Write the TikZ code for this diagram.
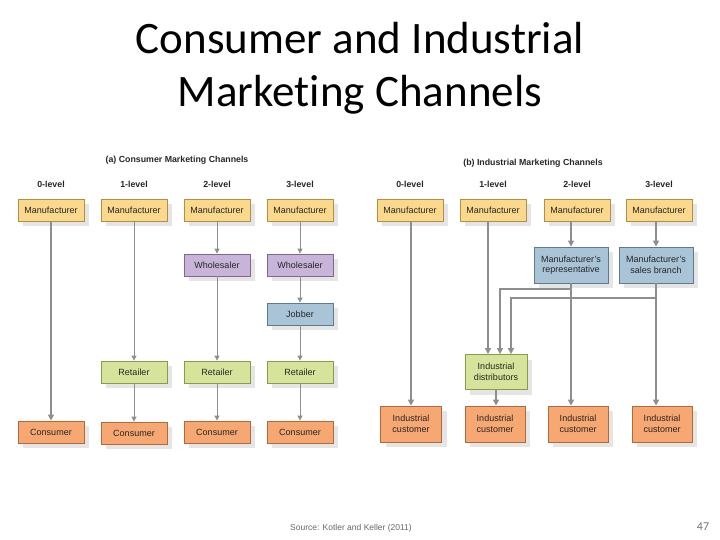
\documentclass[tikz,border=0pt]{standalone}
\usepackage{fontspec}
\setmainfont{Liberation Sans}
\newfontfamily\titlefont[Ligatures=NoCommon]{Carlito}
\usetikzlibrary{arrows.meta,shadows}

\definecolor{manfill}{HTML}{FBD98C}
\definecolor{mandraw}{HTML}{B38E45}
\definecolor{whfill}{HTML}{C9B4D9}
\definecolor{whdraw}{HTML}{7C6890}
\definecolor{jobfill}{HTML}{A9C4D7}
\definecolor{jobdraw}{HTML}{5E7B8E}
\definecolor{retfill}{HTML}{D6E49B}
\definecolor{retdraw}{HTML}{8B9B45}
\definecolor{confill}{HTML}{F6A772}
\definecolor{condraw}{HTML}{B0693A}
\definecolor{arrowgray}{HTML}{8E8E8E}

\tikzset{
  chbox/.style={rectangle, minimum width=66pt, minimum height=22pt, inner sep=1pt,
    line width=0.8pt, align=center, text=black!85,
    font=\fontsize{9}{10.5}\selectfont,
    drop shadow={shadow xshift=5pt, shadow yshift=-5pt, fill=black!10, opacity=1}},
  manbox/.style={chbox, draw=mandraw, fill=manfill},
  whbox/.style={chbox, draw=whdraw, fill=whfill},
  jobbox/.style={chbox, draw=jobdraw, fill=jobfill},
  retbox/.style={chbox, draw=retdraw, fill=retfill},
  conbox/.style={chbox, draw=condraw, fill=confill},
  thinarr/.style={draw=arrowgray, line width=0.9pt, -{Triangle[width=5pt,length=5pt]}},
  thickarr/.style={draw=arrowgray, line width=1.8pt, -{Triangle[width=6pt,length=6pt]}},
  lvl/.style={font=\bfseries\fontsize{8.8}{10}\selectfont, text=black!85},
}

\begin{document}
\begin{tikzpicture}[x=1pt, y=-1pt]

\useasboundingbox (0,0) rectangle (720,540);

% title
\node[font=\titlefont\fontsize{45}{53}\selectfont, align=center] (title) at (360,68)
  {Consumer and Industrial\\Marketing Channels};

% (a) consumer channels
\node[lvl] (hdra) at (177,160) {(a) Consumer Marketing Channels};
\node[lvl] (la0) at (51,184) {0-level};
\node[lvl] (la1) at (134,184) {1-level};
\node[lvl] (la2) at (217,184) {2-level};
\node[lvl] (la3) at (300,184) {3-level};

\node[manbox] (cm0) at (51,210) {Manufacturer};
\node[manbox] (cm1) at (134,210) {Manufacturer};
\node[manbox] (cm2) at (217,210) {Manufacturer};
\node[manbox] (cm3) at (300,210) {Manufacturer};

\node[whbox] (cw2) at (217,265) {Wholesaler};
\node[whbox] (cw3) at (300,265) {Wholesaler};
\node[jobbox] (cj3) at (300,314) {Jobber};

\node[retbox] (cr1) at (134,372) {Retailer};
\node[retbox] (cr2) at (217,372) {Retailer};
\node[retbox] (cr3) at (300,372) {Retailer};

\node[conbox] (cc0) at (51,432) {Consumer};
\node[conbox] (cc1) at (134,433) {Consumer};
\node[conbox] (cc2) at (217,432) {Consumer};
\node[conbox] (cc3) at (300,432) {Consumer};

\draw[thickarr] (cm0) -- (cc0);
\draw[thinarr] (cm1) -- (cr1);
\draw[thinarr] (cr1) -- (cc1);
\draw[thinarr] (cm2) -- (cw2);
\draw[thinarr] (cw2) -- (cr2);
\draw[thinarr] (cr2) -- (cc2);
\draw[thinarr] (cm3) -- (cw3);
\draw[thinarr] (cw3) -- (cj3);
\draw[thinarr] (cj3) -- (cr3);
\draw[thinarr] (cr3) -- (cc3);

% (b) industrial channels
\node[lvl] (hdrb) at (533,163) {(b) Industrial Marketing Channels};
\node[lvl] (lb0) at (410,184) {0-level};
\node[lvl] (lb1) at (493,184) {1-level};
\node[lvl] (lb2) at (577,184) {2-level};
\node[lvl] (lb3) at (659,184) {3-level};

\node[manbox] (im0) at (410,210) {Manufacturer};
\node[manbox] (im1) at (493,210) {Manufacturer};
\node[manbox] (im2) at (577,210) {Manufacturer};
\node[manbox] (im3) at (659,210) {Manufacturer};

\node[jobbox, minimum width=74pt, minimum height=36pt] (rep) at (571,265)
  {Manufacturer's\\representative};
\node[jobbox, minimum width=74pt, minimum height=36pt] (branch) at (656,265)
  {Manufacturer's\\sales branch};

\node[retbox, minimum width=62pt, minimum height=35pt] (dist) at (496,372)
  {Industrial\\distributors};

\node[conbox, minimum width=61pt, minimum height=36pt] (ic0) at (411,424) {Industrial\\customer};
\node[conbox, minimum width=60pt, minimum height=36pt] (ic1) at (495,424) {Industrial\\customer};
\node[conbox, minimum width=60pt, minimum height=36pt] (ic2) at (578,424) {Industrial\\customer};
\node[conbox, minimum width=60pt, minimum height=36pt] (ic3) at (662,424) {Industrial\\customer};

\coordinate (dA) at (488,0);
\coordinate (dB) at (500,0);
\coordinate (dC) at (511,0);
\coordinate (jA) at (571,289);
\coordinate (jB) at (656,298);

\draw[thickarr] (im0.south -| ic0.north) -- (ic0);
\draw[thickarr] (im1.south -| dA) -- (dist.north -| dA);
\draw[thickarr] (im2.south -| rep.north) -- (rep);
\draw[thickarr] (im3.south -| branch.north) -- (branch);
\draw[thickarr] (rep) -- (ic2.north -| rep.south);
\draw[thickarr] (branch) -- (ic3.north -| branch.south);
\draw[thickarr] (jA) -| (dist.north -| dB);
\draw[thickarr] (jB) -| (dist.north -| dC);
\draw[thickarr] (dist) -- (ic1.north -| dist.south);

% footer
\node[font=\fontsize{8.5}{10}\selectfont, text=black!60] (src) at (351,528)
  {Source: Kotler and Keller (2011)};
\node[font=\titlefont\fontsize{12}{14}\selectfont, text=black!55] (pg) at (703,527) {47};

\end{tikzpicture}
\end{document}
